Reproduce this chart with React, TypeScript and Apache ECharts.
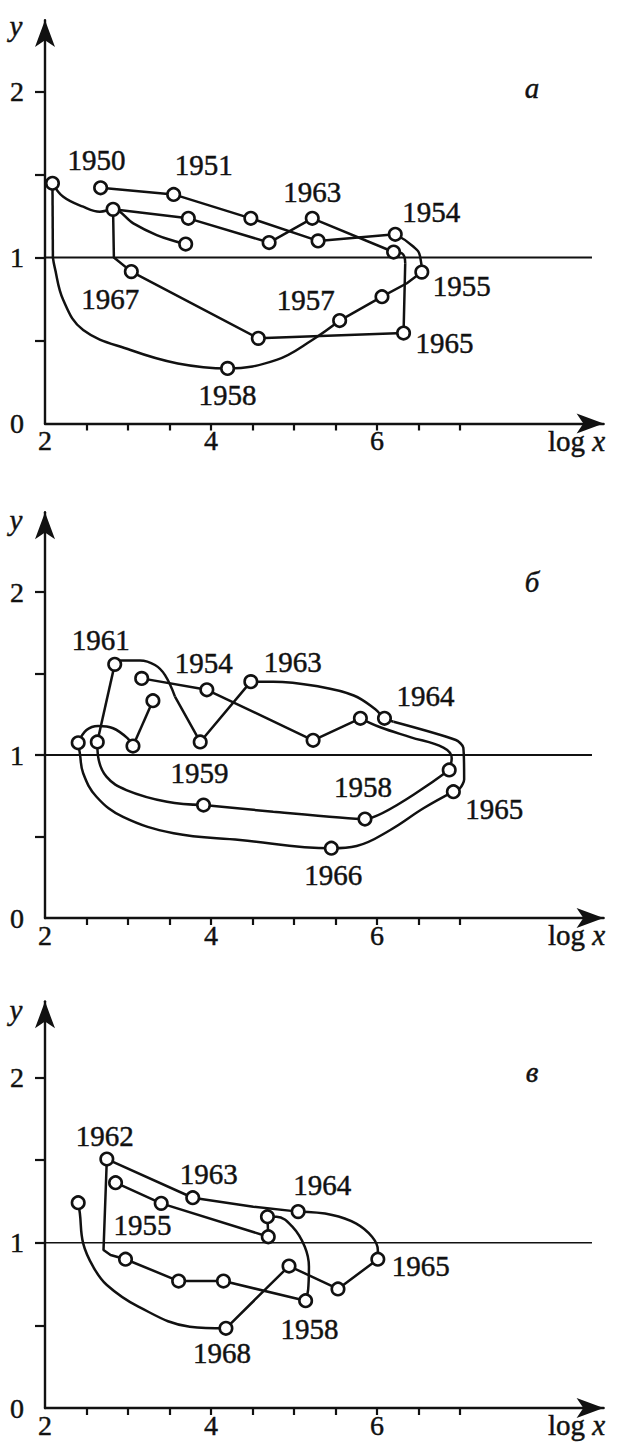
import { useEffect, useRef } from 'react';
import * as echarts from 'echarts';

type Pt = [number, number];
type Ref = number | Pt; // index into a panel's points, or a bend of the drawn curve
interface Stroke { smooth: number; pts: Ref[] }

// Axes
const X_MIN = 2;
const X_MAX = 8.73;
const X_TICKS = [2.5, 3, 3.5, 4, 4.5, 5, 5.5, 6, 6.5, 7];
const X_LABELS = [2, 4, 6];
const Y_TICKS = [0.5, 1, 1.5, 2];
const Y_LABELS = [0, 1, 2];
const LEVEL_Y = 1;
const LEVEL_END_X = 8.59;

// Panel а
const aPoints: Pt[] = [
  [2.67, 1.42], [3.55, 1.38], [4.48, 1.236], [5.29, 1.10], [6.22, 1.14],
  [6.54, 0.912], [6.06, 0.764], [5.55, 0.62], [4.20, 0.332], [2.09, 1.447],
  [2.82, 1.29], [3.727, 1.236], [4.70, 1.09], [5.22, 1.236], [6.20, 1.033],
  [6.32, 0.545], [4.57, 0.513], [3.04, 0.915], [3.695, 1.081],
];
const aYears = ['1950', '1951', '', '', '1954', '1955', '', '1957', '1958', '', '', '', '', '1963', '', '1965', '', '1967', ''];
const aStrokes: Stroke[] = [
  { smooth: 0, pts: [0, 1, 2, 3, 4] },
  { smooth: 0.5, pts: [4, [6.44, 1.065], [6.52, 1.005], 5] },
  { smooth: 0, pts: [5, [6.36, 0.845], 6, 7] },
  { smooth: 0.4, pts: [7, [5.22, 0.503], [4.79, 0.383], 8, [3.60, 0.362], [3.03, 0.443], [2.46, 0.563], [2.22, 0.744], [2.115, 0.945], [2.095, 1.0]] },
  { smooth: 0, pts: [[2.095, 1.0], 9] },
  { smooth: 0.4, pts: [9, [2.22, 1.366], [2.46, 1.306], [2.66, 1.276], 10, [3.064, 1.206], [3.346, 1.135], [3.587, 1.095], 18] },
  { smooth: 0, pts: [10, 11, 12, 13, 14] },
  { smooth: 0.5, pts: [14, [6.30, 1.025], [6.34, 0.965]] },
  { smooth: 0, pts: [[6.34, 0.965], 15, 16, 17, [2.83, 1.0], 10] },
];

// Panel б
const bPoints: Pt[] = [
  [2.40, 1.075], [2.63, 1.08], [2.84, 1.556], [3.165, 1.47], [3.30, 1.333],
  [3.06, 1.055], [3.95, 1.40], [3.87, 1.08], [4.48, 1.45], [5.23, 1.09],
  [5.80, 1.225], [6.09, 1.225], [6.87, 0.908], [6.92, 0.775], [5.855, 0.607],
  [3.91, 0.693], [5.45, 0.428],
];
const bYears = ['', '', '1961', '', '', '', '1954', '', '1963', '', '', '1964', '', '1965', '1958', '1959', '1966'];
const bStrokes: Stroke[] = [
  { smooth: 0.4, pts: [0, [2.50, 1.153], [2.64, 1.178], [2.82, 1.164], [3.00, 1.10], 5] },
  { smooth: 0, pts: [5, 4] },
  { smooth: 0, pts: [3, 6, 9, 10] },
  { smooth: 0.4, pts: [10, [6.04, 1.17], [6.40, 1.11], [6.80, 1.045], [6.90, 0.98], 12] },
  { smooth: 0.2, pts: [12, 14, [4.75, 0.652], 15] },
  { smooth: 0.4, pts: [15, [3.47, 0.713], [2.98, 0.785], [2.74, 0.867], [2.64, 0.99], 1] },
  { smooth: 0, pts: [1, 2] },
  { smooth: 0.4, pts: [2, [2.92, 1.58], [3.145, 1.58], [3.325, 1.552], [3.446, 1.49], [3.566, 1.358]] },
  { smooth: 0, pts: [[3.566, 1.358], 7, 8] },
  { smooth: 0.4, pts: [8, [4.75, 1.45], [5.30, 1.42], [5.72, 1.365], [5.98, 1.28], 11, [6.20, 1.204]] },
  { smooth: 0.25, pts: [[6.20, 1.204], [6.95, 1.092], [7.04, 1.045], [7.05, 0.85], [7.0, 0.796], 13] },
  { smooth: 0.4, pts: [13, [6.56, 0.673], [6.16, 0.54], [5.755, 0.442], 16, [4.35, 0.479], [3.55, 0.52], [2.94, 0.62], [2.62, 0.744], [2.46, 0.888], [2.42, 1.01], 0] },
];

// Panel в
const cPoints: Pt[] = [
  [2.40, 1.242], [2.745, 1.506], [2.85, 1.363], [3.40, 1.238], [3.78, 1.272],
  [5.05, 1.188], [4.68, 1.157], [4.69, 1.036], [6.01, 0.90], [5.53, 0.72],
  [4.94, 0.859], [4.18, 0.482], [5.14, 0.649], [4.15, 0.768], [3.61, 0.768],
  [2.97, 0.90],
];
const cYears = ['', '1962', '1955', '', '1963', '1964', '', '', '1965', '', '', '1968', '1958', '', '', ''];
const cStrokes: Stroke[] = [
  { smooth: 0.4, pts: [0, [2.42, 1.178], [2.46, 0.996], [2.58, 0.855], [2.745, 0.744], [3.125, 0.613], [3.745, 0.492], 11] },
  { smooth: 0, pts: [11, 10, 9, 8] },
  { smooth: 0.4, pts: [8, [6.01, 0.956], [5.94, 1.036], [5.745, 1.117], [5.46, 1.168], 5] },
  { smooth: 0, pts: [5, [4.51, 1.218], 4, 1, [2.705, 0.956], [2.79, 0.926], 15, 14, 13, 12] },
  { smooth: 0.4, pts: [12, [5.17, 0.714], [5.18, 0.855], [5.13, 0.976], [4.98, 1.097], [4.79, 1.157], 6] },
  { smooth: 0, pts: [6, 7, 3, 2] },
];

// Where each year's label sits relative to its circle (px)
const aLabelOffsets: Record<string, Pt> = {
  '1950': [-4, -28], '1951': [30, -29], '1963': [0, -26], '1954': [36, -22], '1955': [40, 14],
  '1957': [-34, -21], '1965': [41, 10], '1958': [0, 27], '1967': [-21, 27],
};
const bLabelOffsets: Record<string, Pt> = {
  '1961': [-14, -24], '1954': [-3, -27], '1963': [42, -20], '1964': [41, -22], '1959': [-4, -32],
  '1958': [-2, -32], '1965': [41, 17], '1966': [2, 27],
};
const cLabelOffsets: Record<string, Pt> = {
  '1962': [-2, -23], '1963': [16, -24], '1955': [27, 42], '1964': [24, -27], '1965': [43, 7],
  '1958': [4, 28], '1968': [-4, 25],
};

const PANELS = [
  { letter: 'а', points: aPoints, years: aYears, strokes: aStrokes, offsets: aLabelOffsets },
  { letter: 'б', points: bPoints, years: bYears, strokes: bStrokes, offsets: bLabelOffsets },
  { letter: 'в', points: cPoints, years: cYears, strokes: cStrokes, offsets: cLabelOffsets },
];

// Page layout of each panel: origin (px), px per y unit, top of the y axis
const LAYOUT = [
  { oy: 423.5, ky: 166, ymax: 2.43, levelWidth: 2.2 },
  { oy: 918, ky: 163, ymax: 2.49, levelWidth: 2.2 },
  { oy: 1408, ky: 165.3, ymax: 2.46, levelWidth: 1.5 },
];
const OX = 45;
const KX = 83;

const INK = '#111111';
const FONT = 'Liberation Serif';
const TEXT_WEIGHT = { textBorderColor: INK, textBorderWidth: 0.45 };

function resolve(points: Pt[], refs: Ref[]): Pt[] {
  return refs.map((r) => (typeof r === 'number' ? points[r] : r));
}

function buildOption() {
  const grid: any[] = [];
  const xAxis: any[] = [];
  const yAxis: any[] = [];
  const series: any[] = [];
  const graphic: any[] = [];

  PANELS.forEach((panel, i) => {
    const L = LAYOUT[i];
    const height = L.ymax * L.ky;
    grid.push({
      left: OX,
      top: L.oy - height,
      width: (X_MAX - X_MIN) * KX,
      height,
      containLabel: false,
      outerBoundsMode: 'none',
    });
    xAxis.push({
      type: 'value',
      gridIndex: i,
      min: X_MIN,
      max: X_MAX,
      axisLine: {
        show: true,
        onZero: false,
        symbol: ['none', 'arrow'],
        symbolSize: [15, 27],
        lineStyle: { color: INK, width: 2.4 },
      },
      axisTick: { show: true, inside: false, length: 7, customValues: X_TICKS, lineStyle: { color: INK, width: 2.2 } },
      axisLabel: { show: true, customValues: X_LABELS, margin: 3, color: INK, fontFamily: FONT, fontSize: 28, ...TEXT_WEIGHT },
      splitLine: { show: false },
    });
    yAxis.push({
      type: 'value',
      gridIndex: i,
      min: 0,
      max: L.ymax,
      axisLine: {
        show: true,
        onZero: false,
        symbol: ['none', 'arrow'],
        symbolSize: [15, 27],
        lineStyle: { color: INK, width: 2.4 },
      },
      axisTick: { show: true, inside: false, length: 10, customValues: Y_TICKS, lineStyle: { color: INK, width: 2.2 } },
      axisLabel: { show: true, customValues: Y_LABELS, margin: 21, color: INK, fontFamily: FONT, fontSize: 28, ...TEXT_WEIGHT },
      splitLine: { show: false },
    });

    // level y = 1
    series.push({
      type: 'line',
      xAxisIndex: i,
      yAxisIndex: i,
      data: [[X_MIN, LEVEL_Y], [LEVEL_END_X, LEVEL_Y]],
      symbol: 'none',
      silent: true,
      lineStyle: { color: INK, width: L.levelWidth },
      z: 1,
    });

    panel.strokes.forEach((s) => {
      series.push({
        type: 'line',
        xAxisIndex: i,
        yAxisIndex: i,
        data: resolve(panel.points, s.pts),
        smooth: s.smooth || false,
        symbol: 'none',
        silent: true,
        lineStyle: { color: INK, width: 2.5 },
        z: 2,
      });
    });

    series.push({
      type: 'scatter',
      xAxisIndex: i,
      yAxisIndex: i,
      symbol: 'circle',
      symbolSize: 12.5,
      silent: true,
      itemStyle: { color: '#ffffff', borderColor: INK, borderWidth: 2.6, opacity: 1 },
      label: {
        show: false,
        position: 'inside',
        formatter: '{b}',
        color: INK,
        fontFamily: FONT,
        fontSize: 29,
        ...TEXT_WEIGHT,
      },
      data: panel.points.map((p, k) => {
        const year = panel.years[k];
        return {
          value: p,
          name: year,
          label: year ? { show: true, offset: panel.offsets[year] || [0, 0] } : { show: false },
        };
      }),
      z: 3,
    });

    // axis names and panel letter
    graphic.push({
      type: 'text',
      x: OX + 503,
      y: L.oy + 17,
      style: {
        text: '{r|log }{i|x}',
        verticalAlign: 'middle',
        rich: {
          r: { fontFamily: FONT, fontSize: 29, fill: INK, stroke: INK, lineWidth: 0.45 },
          i: { fontFamily: FONT, fontSize: 29, fontStyle: 'italic', fill: INK, stroke: INK, lineWidth: 0.45 },
        },
      },
    });
    graphic.push({
      type: 'text',
      x: OX - 29,
      y: L.oy - 398,
      style: {
        text: 'y',
        fontFamily: FONT,
        fontSize: 29,
        fontStyle: 'italic',
        fill: INK,
        stroke: INK,
        lineWidth: 0.45,
        align: 'center',
        verticalAlign: 'middle',
      },
    });
    graphic.push({
      type: 'text',
      x: OX + 487,
      y: L.oy - 336,
      style: {
        text: panel.letter,
        fontFamily: FONT,
        fontSize: 29,
        fontStyle: 'italic',
        fill: INK,
        stroke: INK,
        lineWidth: 0.45,
        align: 'center',
        verticalAlign: 'middle',
      },
    });
  });

  return {
    animation: false,
    backgroundColor: '#ffffff',
    grid,
    xAxis,
    yAxis,
    series,
    graphic,
  };
}

export default function App() {
  const ref = useRef<HTMLDivElement>(null);
  useEffect(() => {
    if (!ref.current) return;
    const chart = echarts.init(ref.current, null, { renderer: 'svg' });
    chart.setOption(buildOption() as any);
    return () => chart.dispose();
  }, []);
  return (
    <div
      ref={ref}
      style={{ position: 'absolute', left: 0, top: 0, width: 620, height: 1452, background: '#ffffff' }}
    />
  );
}
